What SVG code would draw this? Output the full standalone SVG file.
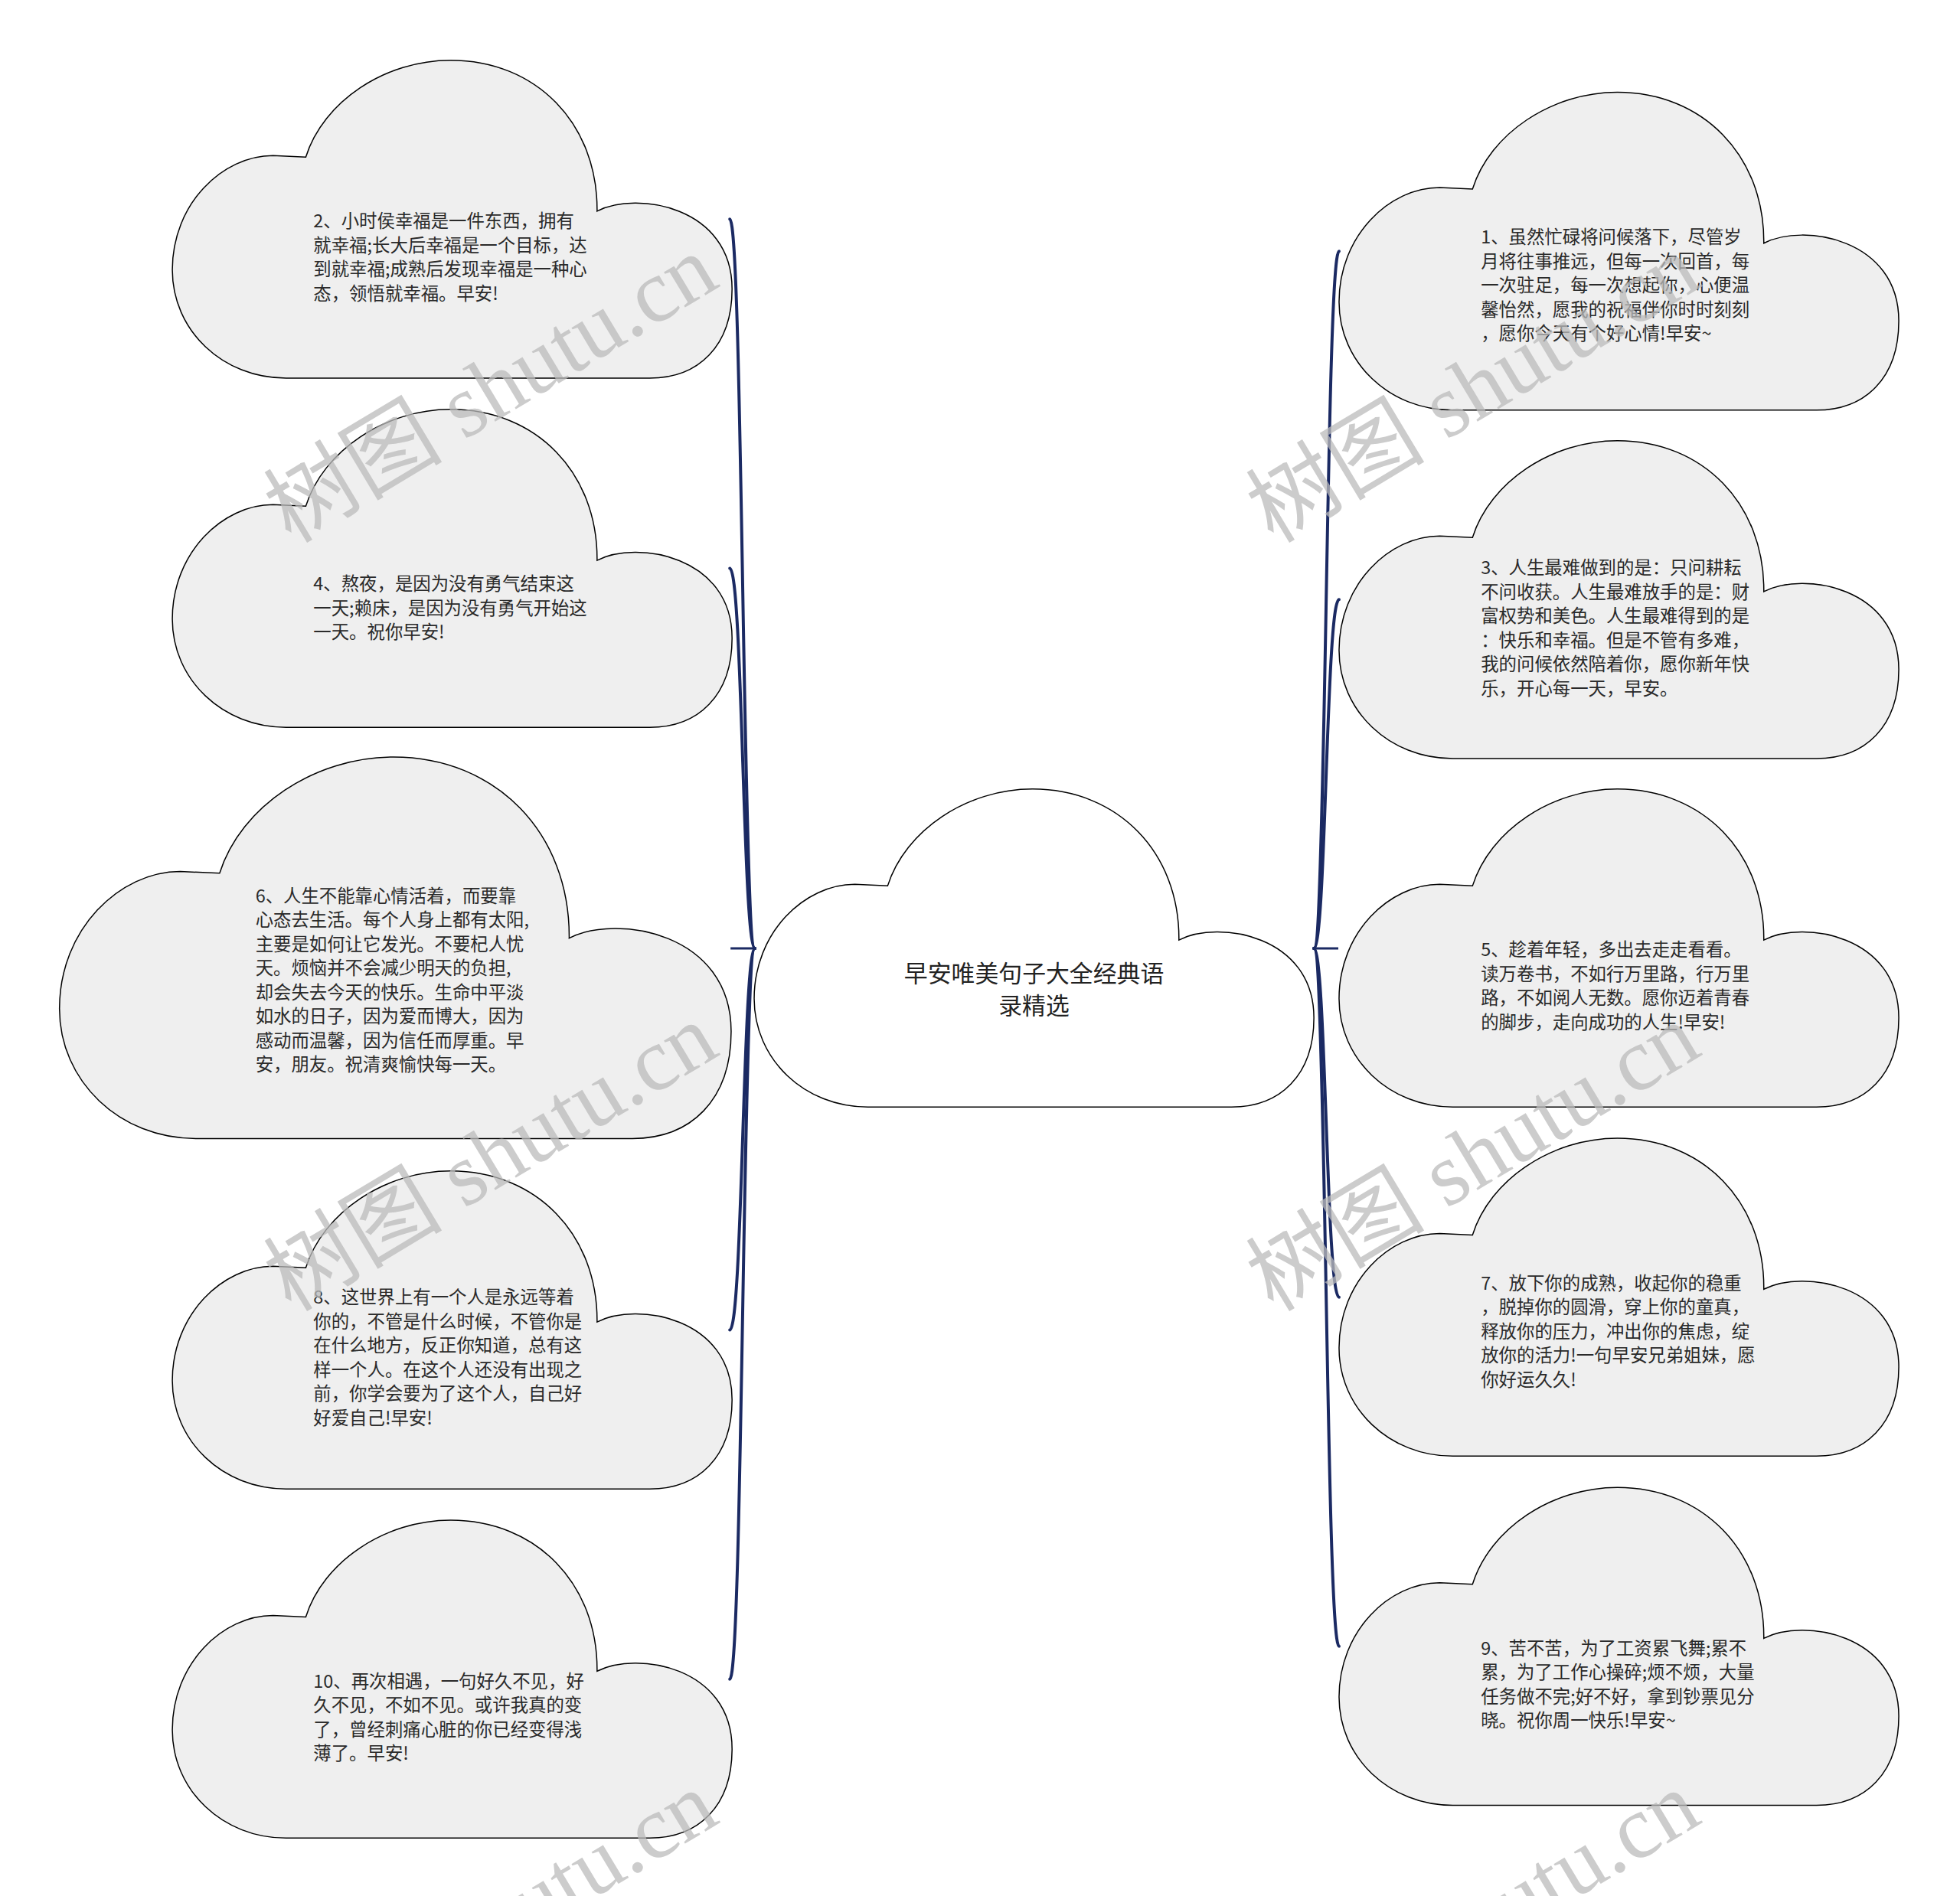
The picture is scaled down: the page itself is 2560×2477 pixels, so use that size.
<svg xmlns="http://www.w3.org/2000/svg" xmlns:xlink="http://www.w3.org/1999/xlink" width="2560" height="2477" viewBox="0 0 2560 2477">
<style>
.cloud{fill:#efefef;stroke:#000;stroke-width:1.5}
.root{fill:#fff;stroke:#000;stroke-width:1.5}
.conn{fill:none;stroke:#1b2a63;stroke-width:4;stroke-linecap:round}
.stub{fill:none;stroke:#1b2a63;stroke-width:3}
.t{font-family:"Noto Sans CJK SC","Noto Sans",sans-serif;font-size:23.5px;fill:#2a2a2a}
.title{font-family:"Noto Sans CJK SC","Noto Sans",sans-serif;font-size:31px;fill:#222;text-anchor:middle}
.wm{font-family:"Liberation Serif","Noto Sans CJK SC",serif;font-size:117px;fill:#bbb;opacity:0.75}
</style>
<defs>
<path id="cl" d="M149,417 C66,417 0,354.5 0,275 C0,188 66,125 132,125 L175,127 C198,54 279,0 365,0 C477,0 558,83 557,198 C609,171 734,192 734,300 C734,375 690,417 626,417 Z"/>
</defs>
<rect width="2560" height="2477" fill="#fff"/>
<g transform="scale(0.996)">
<g id="connectors">
<path class="conn" d="M990,1244 C974,1244 974,287.5 957,287.5"/>
<path class="conn" d="M990,1244 C974,1244 974,745.5 957,745.5"/>
<path class="stub" d="M990,1244 L958,1244"/>
<path class="conn" d="M990,1244 C974,1244 974,1744.5 957,1744.5"/>
<path class="conn" d="M990,1244 C974,1244 974,2202.5 957,2202.5"/>
<path class="conn" d="M1723,1244 C1739,1244 1739,329.5 1756,329.5"/>
<path class="conn" d="M1723,1244 C1739,1244 1739,786.5 1756,786.5"/>
<path class="stub" d="M1723,1244 L1755,1244"/>
<path class="conn" d="M1723,1244 C1739,1244 1739,1701.5 1756,1701.5"/>
<path class="conn" d="M1723,1244 C1739,1244 1739,2159.5 1756,2159.5"/>
</g>
<g id="root">
<use xlink:href="#cl" class="root" transform="translate(989,1035)"/>
<text class="title" x="1356" y="1288">早安唯美句子大全经典语<tspan x="1356" dy="42">录精选</tspan></text>
</g>
<g id="n2">
<use xlink:href="#cl" class="cloud" transform="translate(226,79)"/>
<text class="t" x="411" y="298.5">2、小时侯幸福是一件东西，拥有<tspan x="411" dy="31.6">就幸福;长大后幸福是一个目标，达</tspan><tspan x="411" dy="31.6">到就幸福;成熟后发现幸福是一种心</tspan><tspan x="411" dy="31.6">态，领悟就幸福。早安!</tspan></text>
</g>
<g id="n4">
<use xlink:href="#cl" class="cloud" transform="translate(226,537)"/>
<text class="t" x="411" y="774.5">4、熬夜，是因为没有勇气结束这<tspan x="411" dy="31.6">一天;赖床，是因为没有勇气开始这</tspan><tspan x="411" dy="31.6">一天。祝你早安!</tspan></text>
</g>
<g id="n6">
<use xlink:href="#cl" class="cloud" style="stroke-width:1.25" transform="translate(78,993) scale(1.2)"/>
<text class="t" x="335" y="1183.5">6、人生不能靠心情活着，而要靠<tspan x="335" dy="31.6">心态去生活。每个人身上都有太阳,</tspan><tspan x="335" dy="31.6">主要是如何让它发光。不要杞人忧</tspan><tspan x="335" dy="31.6">天。烦恼并不会减少明天的负担,</tspan><tspan x="335" dy="31.6">却会失去今天的快乐。生命中平淡</tspan><tspan x="335" dy="31.6">如水的日子，因为爱而博大，因为</tspan><tspan x="335" dy="31.6">感动而温馨，因为信任而厚重。早</tspan><tspan x="335" dy="31.6">安，朋友。祝清爽愉快每一天。</tspan></text>
</g>
<g id="n8">
<use xlink:href="#cl" class="cloud" transform="translate(226,1536)"/>
<text class="t" x="411" y="1710">8、这世界上有一个人是永远等着<tspan x="411" dy="31.6">你的，不管是什么时候，不管你是</tspan><tspan x="411" dy="31.6">在什么地方，反正你知道，总有这</tspan><tspan x="411" dy="31.6">样一个人。在这个人还没有出现之</tspan><tspan x="411" dy="31.6">前，你学会要为了这个人，自己好</tspan><tspan x="411" dy="31.6">好爱自己!早安!</tspan></text>
</g>
<g id="n10">
<use xlink:href="#cl" class="cloud" transform="translate(226,1994)"/>
<text class="t" x="411" y="2213.5">10、再次相遇，一句好久不见，好<tspan x="411" dy="31.6">久不见，不如不见。或许我真的变</tspan><tspan x="411" dy="31.6">了，曾经刺痛心脏的你已经变得浅</tspan><tspan x="411" dy="31.6">薄了。早安!</tspan></text>
</g>
<g id="n1">
<use xlink:href="#cl" class="cloud" transform="translate(1756,121)"/>
<text class="t" x="1942" y="319.5">1、虽然忙碌将问候落下，尽管岁<tspan x="1942" dy="31.6">月将往事推远，但每一次回首，每</tspan><tspan x="1942" dy="31.6">一次驻足，每一次想起你，心便温</tspan><tspan x="1942" dy="31.6">馨怡然，愿我的祝福伴你时时刻刻</tspan><tspan x="1942" dy="31.6">，愿你今天有个好心情!早安~</tspan></text>
</g>
<g id="n3">
<use xlink:href="#cl" class="cloud" transform="translate(1756,578)"/>
<text class="t" x="1942" y="753.5">3、人生最难做到的是：只问耕耘<tspan x="1942" dy="31.6">不问收获。人生最难放手的是：财</tspan><tspan x="1942" dy="31.6">富权势和美色。人生最难得到的是</tspan><tspan x="1942" dy="31.6">：快乐和幸福。但是不管有多难，</tspan><tspan x="1942" dy="31.6">我的问候依然陪着你，愿你新年快</tspan><tspan x="1942" dy="31.6">乐，开心每一天，早安。</tspan></text>
</g>
<g id="n5">
<use xlink:href="#cl" class="cloud" transform="translate(1756,1035)"/>
<text class="t" x="1942" y="1254.5">5、趁着年轻，多出去走走看看。<tspan x="1942" dy="31.6">读万卷书，不如行万里路，行万里</tspan><tspan x="1942" dy="31.6">路，不如阅人无数。愿你迈着青春</tspan><tspan x="1942" dy="31.6">的脚步，走向成功的人生!早安!</tspan></text>
</g>
<g id="n7">
<use xlink:href="#cl" class="cloud" transform="translate(1756,1493)"/>
<text class="t" x="1942" y="1691.5">7、放下你的成熟，收起你的稳重<tspan x="1942" dy="31.6">，脱掉你的圆滑，穿上你的童真，</tspan><tspan x="1942" dy="31.6">释放你的压力，冲出你的焦虑，绽</tspan><tspan x="1942" dy="31.6">放你的活力!一句早安兄弟姐妹，愿</tspan><tspan x="1942" dy="31.6">你好运久久!</tspan></text>
</g>
<g id="n9">
<use xlink:href="#cl" class="cloud" transform="translate(1756,1951)"/>
<text class="t" x="1942" y="2170.5">9、苦不苦，为了工资累飞舞;累不<tspan x="1942" dy="31.6">累，为了工作心操碎;烦不烦，大量</tspan><tspan x="1942" dy="31.6">任务做不完;好不好，拿到钞票见分</tspan><tspan x="1942" dy="31.6">晓。祝你周一快乐!早安~</tspan></text>
</g>
</g>
<g id="watermark">
<text class="wm" x="380" y="711" transform="rotate(-31 380 711)">树图 shutu.cn</text>
<text class="wm" x="1663" y="711" transform="rotate(-31 1663 711)">树图 shutu.cn</text>
<text class="wm" x="380" y="1715" transform="rotate(-31 380 1715)">树图 shutu.cn</text>
<text class="wm" x="1663" y="1715" transform="rotate(-31 1663 1715)">树图 shutu.cn</text>
<text class="wm" x="380" y="2718" transform="rotate(-31 380 2718)">树图 shutu.cn</text>
<text class="wm" x="1663" y="2718" transform="rotate(-31 1663 2718)">树图 shutu.cn</text>
</g>
</svg>
